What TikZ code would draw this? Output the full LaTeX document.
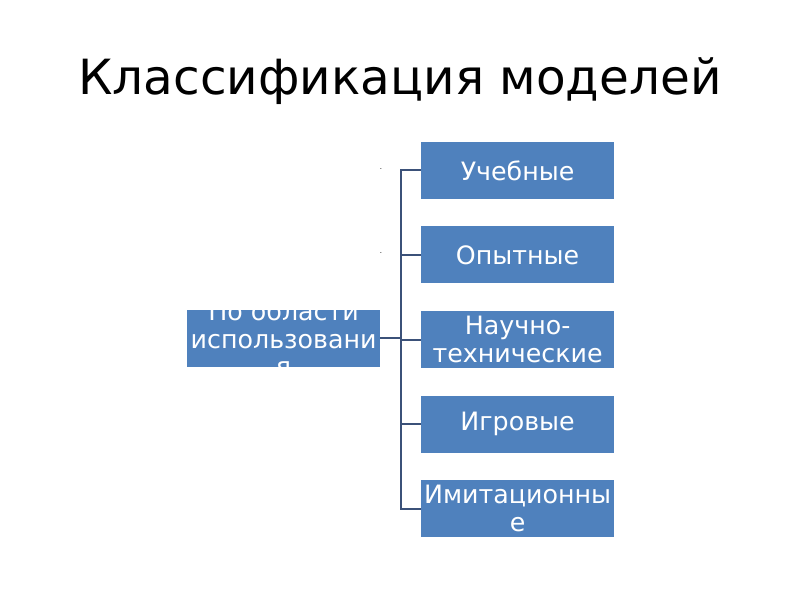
\documentclass[tikz,border=0pt]{standalone}
\usepackage{fontspec}
\setmainfont{DejaVu Sans}
\usetikzlibrary{positioning}

\definecolor{boxblue}{HTML}{4F81BD}
\definecolor{linkblue}{HTML}{3B5179}

\tikzset{
	kind/.style={fill=boxblue, text=white, minimum width=4.825cm, minimum height=1.425cm,
		inner sep=0pt, align=center, font=\fontsize{18}{19.5}\selectfont},
	link/.style={draw=linkblue, line width=1.4pt},
}

\begin{document}
\begin{tikzpicture}[node distance=0.675cm]
	\useasboundingbox (0,0) rectangle (20,-15);
	\node[font=\fontsize{34.5}{40}\selectfont] (title) at (10,-2.02) {Классификация моделей};
	
	\node[kind] (k1) at (12.94,-4.26) {Учебные};
	\node[kind, below=of k1] (k2) {Опытные};
	\node[kind, below=of k2] (k3) {Научно-\\технические};
	\node[kind, below=of k3] (k4) {Игровые};
	\node[kind, below=of k4] (k5) {Имитационны\\е};
	
	\node[kind] (area) at (7.09,-8.46) {};
	\begin{scope}
		\clip (area.south west) rectangle (area.north east);
		\node[text=white, align=center, font=\fontsize{18}{19.5}\selectfont] (areatext) at (area.center) {По области\\использовани\\я};
	\end{scope}
	
	\node[font=\tiny] (d1) at (9.525,-4.22) {.};
	\node[font=\tiny] (d2) at (9.525,-6.32) {.};
	
	\coordinate (fork) at (10.03,-8.46);
	\draw[link] (area) -- (fork);
	\draw[link] (k1.west) -| (fork) |- (k5.west);
	\draw[link] (k2.west) -- (k2.west -| fork);
	\draw[link] (k3.west) -- (k3.west -| fork);
	\draw[link] (k4.west) -- (k4.west -| fork);
	
\end{tikzpicture}
\end{document}
